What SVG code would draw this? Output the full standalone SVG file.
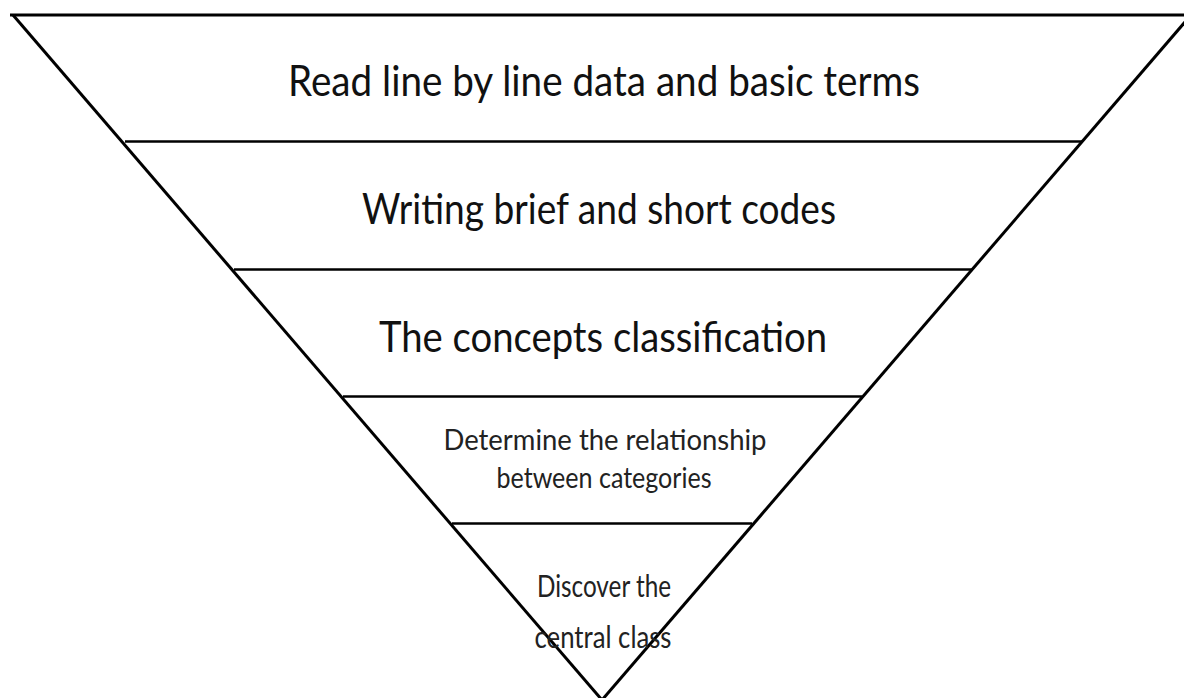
<svg xmlns="http://www.w3.org/2000/svg" width="1184" height="698" viewBox="0 0 1184 698">
<style>
.edge{stroke:#000;stroke-width:3;fill:none;stroke-linecap:butt}
.div{stroke:#000;stroke-width:2.5;fill:none}
.big{font-family:Lato,"Open Sans","Liberation Sans",sans-serif;font-size:43px;fill:#111;text-anchor:middle}
.mid{font-family:Lato,"Open Sans","Liberation Sans",sans-serif;font-size:28px;fill:#222;text-anchor:middle}
.sml{font-family:Lato,"Open Sans","Liberation Sans",sans-serif;font-size:30px;fill:#222;text-anchor:middle}
</style>
<rect width="1184" height="698" fill="#fff"/>
<g id="connectors">
<line class="edge" x1="10" y1="15" x2="1191" y2="15"/>
<line class="edge" x1="13" y1="15" x2="602" y2="700"/>
<line class="edge" x1="1191" y1="15" x2="602" y2="700"/>
<line class="div" x1="125" y1="141.5" x2="1082" y2="141.5"/>
<line class="div" x1="234" y1="269.5" x2="973" y2="269.5"/>
<line class="div" x1="343" y1="396.5" x2="862" y2="396.5"/>
<line class="div" x1="452" y1="523.5" x2="752" y2="523.5"/>
</g>
<g id="level1"><text class="big" x="604" y="96" textLength="632" lengthAdjust="spacingAndGlyphs">Read line by line data and basic terms</text></g>
<g id="level2"><text class="big" x="599" y="224" textLength="474" lengthAdjust="spacingAndGlyphs">Writing brief and short codes</text></g>
<g id="level3"><text class="big" x="603" y="352" textLength="448" lengthAdjust="spacingAndGlyphs">The concepts classification</text></g>
<g id="level4">
<text class="mid" x="605" y="450" textLength="323" lengthAdjust="spacingAndGlyphs">Determine the relationship</text>
<text class="mid" x="604" y="488" textLength="215" lengthAdjust="spacingAndGlyphs">between categories</text>
</g>
<g id="level5">
<text class="sml" x="604" y="597" textLength="134" lengthAdjust="spacingAndGlyphs">Discover the</text>
<text class="sml" x="603" y="648" textLength="137" lengthAdjust="spacingAndGlyphs">central class</text>
</g>
</svg>
